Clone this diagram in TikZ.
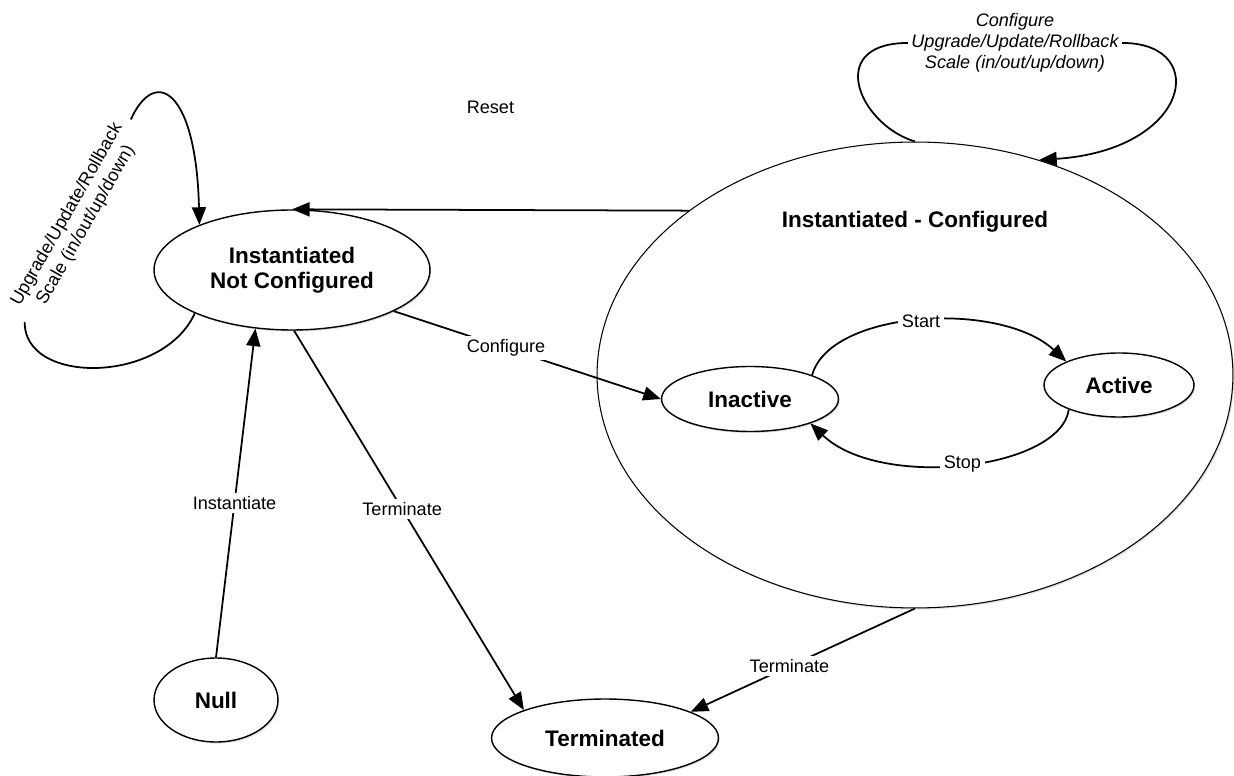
\documentclass[tikz,border=0pt]{standalone}
\usepackage{fontspec}
\setmainfont{Liberation Sans}
\usetikzlibrary{shapes.geometric,arrows.meta,shadows}
\begin{document}
\begin{tikzpicture}[x=0.02cm, y=-0.02cm,
  phase/.style={ellipse, draw, line width=0.8pt, fill=white, inner sep=0pt, align=center, font=\bfseries\fontsize{12.8}{14.5}\selectfont, drop shadow={opacity=0.25, shadow xshift=0.7pt, shadow yshift=-0.9pt}},
  lbl/.style={fill=white, inner sep=2pt, align=center, font=\fontsize{10.3}{12.4}\selectfont},
  trans/.style={line width=1pt, -{Triangle[length=10pt, width=8pt]}}]
\useasboundingbox (0,0) rectangle (1234,776);
\node[phase, minimum width=12.72cm, minimum height=9.32cm, line width=0.6pt] (cfg) at (915,375) {};
\node[font=\bfseries\fontsize{12.8}{14.5}\selectfont] (cfgtitle) at ([yshift=-1.6cm]cfg.north) {Instantiated - Configured};
\node[phase, minimum width=5.52cm, minimum height=2.4cm] (inc) at (292,270) {Instantiated\\Not Configured};
\node[phase, minimum width=3.54cm, minimum height=1.3cm] (inactive) at (750,399) {Inactive};
\node[phase, minimum width=3cm, minimum height=1.28cm] (active) at (1119,385) {Active};
\node[phase, minimum width=2.48cm, minimum height=1.68cm] (null) at (216,700) {Null};
\node[phase, minimum width=4.54cm, minimum height=1.56cm] (term) at (605,738) {Terminated};
\draw[trans] (null.north) -- node[lbl, pos=0.47] {Instantiate} (inc.238);
\draw[trans] (inc.272) -- node[lbl, pos=0.47] {Terminate} (term.161);
\draw[trans] (inc.338) -- node[lbl, pos=0.42] {Configure} (inactive.west);
\draw[trans] (cfg.270) -- node[lbl, pos=0.56] {Terminate} (term.17);
\draw[trans] (cfg.144) -- node[lbl, midway, yshift=2.05cm] {Reset} (inc.north);
\draw[trans] (inactive.21) .. controls (830,310) and (1000,300) .. node[lbl, pos=0.5] {Start} (active.156);
\draw[trans] (active.206) .. controls (1060,470) and (880,490) .. node[lbl, pos=0.5] {Stop} (inactive.338);
\draw[trans] (inc.204) .. controls (160,390) and (0,385) .. (28,305) -- node[lbl, sloped, inner xsep=6pt] {Upgrade/Update/Rollback\\Scale (in/out/up/down)} (125,135) .. controls (148,62) and (196,80) .. (inc.154);
\draw[trans] (cfg.90) .. controls (860,125) and (825,45) .. (905,43) -- node[lbl, font=\itshape\fontsize{10.3}{12}\selectfont] {Configure\\Upgrade/Update/Rollback\\Scale (in/out/up/down)} (1125,43) .. controls (1210,45) and (1190,150) .. (cfg.60);
\end{tikzpicture}
\end{document}
